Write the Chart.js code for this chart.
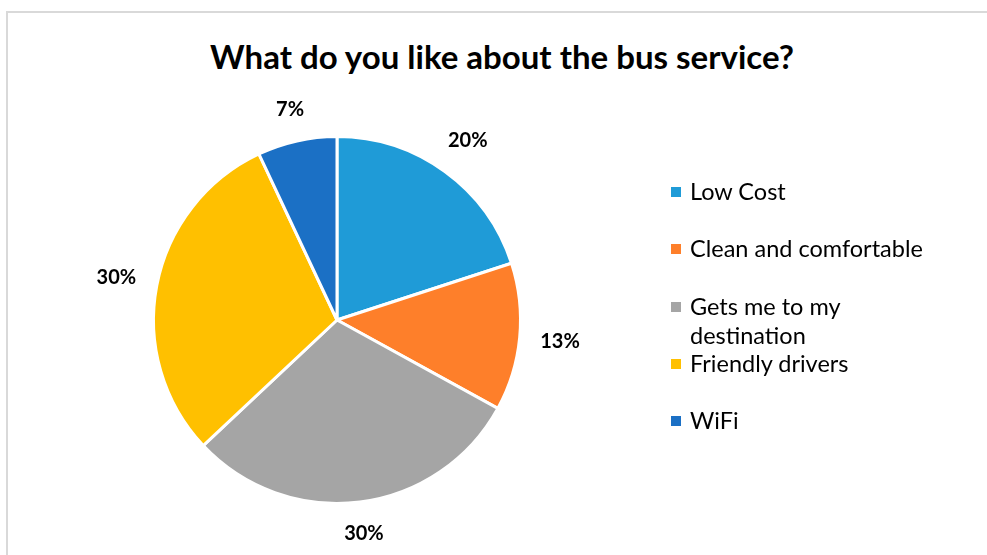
<!DOCTYPE html>
<html>
<head>
<meta charset="utf-8">
<script src="https://cdn.jsdelivr.net/npm/chart.js@4.4.1/dist/chart.umd.min.js"></script>
<style>
  html, body { margin: 0; padding: 0; background: #ffffff; }
  #wrap { position: relative; width: 987px; height: 555px; overflow: hidden; font-family: Lato, "Open Sans", sans-serif; }
  #frame { position: absolute; left: 6px; top: 11px; width: 1000px; height: 600px; border: 2px solid #d9d9d9; box-sizing: border-box; }
  #title { position: absolute; left: 0; top: 36px; width: 1004px; text-align: center; font-weight: 700; font-size: 33px; line-height: 40px; color: #000; }
  #pie { position: absolute; left: 0; top: 0; }
  #legend { position: absolute; left: 670px; top: 0; width: 310px; }
  .item { position: absolute; left: 0; width: 310px; font-size: 23.5px; line-height: 29px; color: #000; }
  .item .sw { position: absolute; left: 1px; top: 10px; width: 10px; height: 10px; }
  .item .tx { position: absolute; left: 20px; top: 0; width: 255px; }
</style>
</head>
<body>
<div id="wrap">
  <div id="frame"></div>
  <div id="title">What do you like about the bus service?</div>
  <canvas id="pie" width="987" height="555"></canvas>
  <div id="legend"></div>
</div>
<script>
// Survey answers and their shares (percent)
const categories = ['Low Cost', 'Clean and comfortable', 'Gets me to my destination', 'Friendly drivers', 'WiFi'];
const shares = [20, 13, 30, 30, 7];
const sliceColors = ['#1f9bd7', '#fe7f2a', '#a5a5a5', '#ffc000', '#1b70c5'];

// Percentage labels placed just outside each slice
const outsideLabels = {
  id: 'outsideLabels',
  afterDatasetsDraw(chart) {
    const ctx = chart.ctx;
    const meta = chart.getDatasetMeta(0);
    ctx.save();
    ctx.font = '700 20px Lato, "Open Sans", sans-serif';
    ctx.fillStyle = '#000';
    ctx.textAlign = 'center';
    ctx.textBaseline = 'middle';
    meta.data.forEach((arc, i) => {
      const p = arc.getProps(['x', 'y', 'startAngle', 'endAngle', 'outerRadius'], true);
      const mid = (p.startAngle + p.endAngle) / 2;
      const text = chart.data.datasets[0].data[i] + '%';
      const halfW = ctx.measureText(text).width / 2;
      const halfH = 9;
      const dist = p.outerRadius + 20 + halfW * Math.abs(Math.cos(mid)) + halfH * Math.abs(Math.sin(mid));
      ctx.fillText(text, p.x + Math.cos(mid) * dist, p.y + Math.sin(mid) * dist);
    });
    ctx.restore();
  }
};

const chart = new Chart(document.getElementById('pie'), {
  type: 'pie',
  data: {
    labels: categories,
    datasets: [{
      data: shares,
      backgroundColor: sliceColors,
      borderColor: '#ffffff',
      borderWidth: 3
    }]
  },
  options: {
    responsive: false,
    animation: false,
    layout: { padding: { left: 152, right: 465, top: 135, bottom: 50 } },
    plugins: {
      legend: { display: false },
      title: { display: false },
      tooltip: { enabled: false }
    }
  },
  plugins: [outsideLabels]
});

// Legend built from the chart's own labels and colours
const legendTops = [177, 234, 292, 349, 406];
const legendEl = document.getElementById('legend');
chart.data.labels.forEach((label, i) => {
  const item = document.createElement('div');
  item.className = 'item';
  item.style.top = legendTops[i] + 'px';
  const sw = document.createElement('span');
  sw.className = 'sw';
  sw.style.background = chart.data.datasets[0].backgroundColor[i];
  const tx = document.createElement('span');
  tx.className = 'tx';
  tx.textContent = label;
  item.appendChild(sw);
  item.appendChild(tx);
  legendEl.appendChild(item);
});
</script>
</body>
</html>
